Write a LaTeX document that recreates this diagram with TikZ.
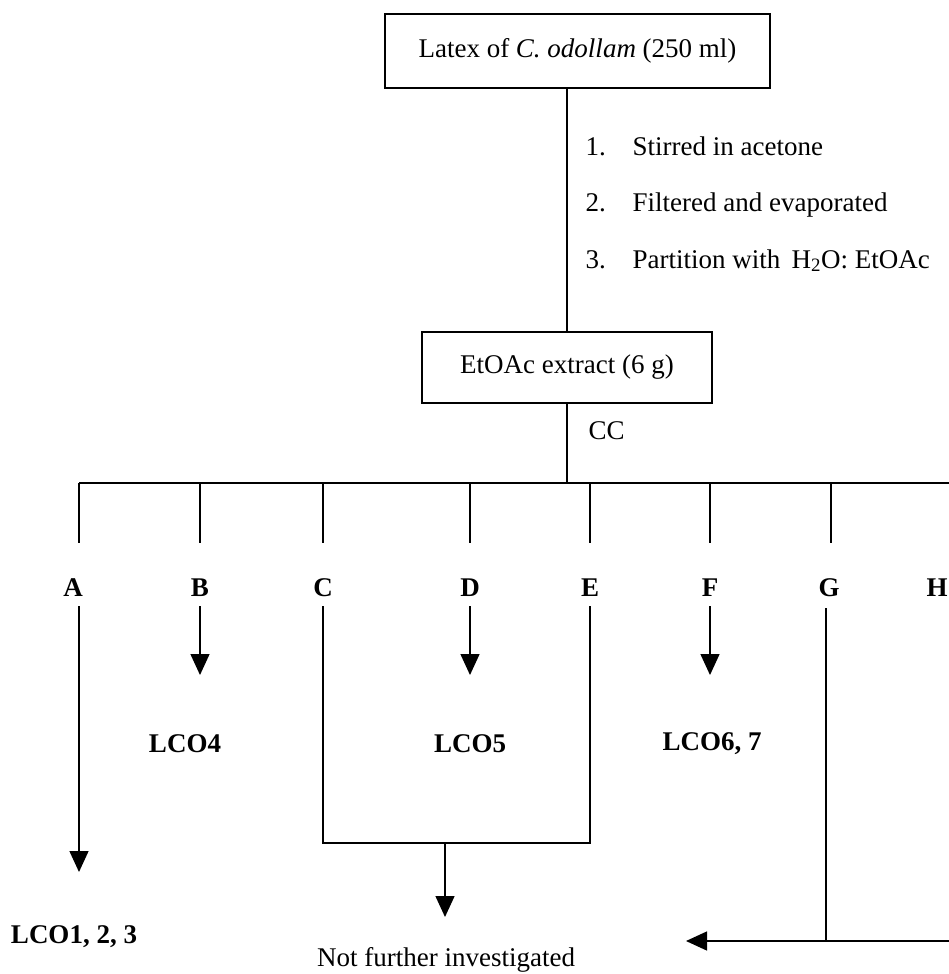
\documentclass[tikz,border=0pt]{standalone}
\usepackage{fontspec}
\setmainfont{Liberation Serif}
\usetikzlibrary{arrows.meta}
\begin{document}
\begin{tikzpicture}[x=1pt,y=-1pt,
  line width=1.4pt,
  box/.style={draw, line width=1.5pt, inner sep=0pt, font=\fontsize{27}{32}\selectfont},
  txt/.style={inner sep=0pt, font=\fontsize{27}{32}\selectfont},
  lab/.style={inner sep=0pt, font=\fontsize{27}{32}\selectfont\bfseries},
  arr/.style={-{Triangle[length=21pt,width=19pt]}}]
\useasboundingbox (0,0) rectangle (949,974);
% boxes
\node[box, minimum width=385pt, minimum height=74pt] (latex) at (577.5,51) {Latex of \textit{C. odollam} (250 ml)};
\node[box, minimum width=290pt, minimum height=71pt] (etoac) at (567,367.5) {EtOAc extract (6 g)};
% steps
\node[txt, anchor=base west] (n1) at (585,155) {1.};
\node[txt, anchor=base west] (s1) at (632,155) {Stirred in acetone};
\node[txt, anchor=base west] (n2) at (585,211) {2.};
\node[txt, anchor=base west] (s2) at (632,211) {Filtered and evaporated};
\node[txt, anchor=base west] (n3) at (585,268) {3.};
\node[txt, anchor=base west] (s3) at (632,268) {Partition with\, H\textsubscript{2}O: EtOAc};
\node[txt, anchor=west] (cc) at (588,431) {CC};
% main trunk
\coordinate (m) at (567,0);
\coordinate (bl) at (79,483);
\coordinate (br) at (949,483);
\draw (latex.south -| m) -- (etoac.north -| m);
\draw (etoac.south -| m) -- (m |- br);
\draw (bl) -- (br);
% drops and labels
\foreach \n/\x/\lx in {A/79/73, B/200/200, C/323/323, D/470/470, E/590/590, F/710/710, G/831/829}{
  \coordinate (t\n) at (\x,483);
  \coordinate (d\n) at (\x,543);
  \draw (t\n) -- (d\n);
  \node[lab] (\n) at (\lx,588) {\n};
}
\node[lab] (H) at (937,588) {H};
% lower connectors
\coordinate (a1) at (79,606);  \coordinate (a2) at (79,872);
\coordinate (b1) at (200,606); \coordinate (b2) at (200,675);
\coordinate (c1) at (323,606); \coordinate (c2) at (323,843);
\coordinate (d1) at (470,606); \coordinate (d2) at (470,675);
\coordinate (e1) at (590,606); \coordinate (e2) at (590,843);
\coordinate (f1) at (710,606); \coordinate (f2) at (710,675);
\coordinate (g1) at (826,608); \coordinate (g2) at (826,941);
\coordinate (mid) at (445,843); \coordinate (midtip) at (445,917);
\coordinate (rgt) at (949,941); \coordinate (ltip) at (686,941);
\draw[arr] (a1) -- (a2);
\draw[arr] (b1) -- (b2);
\draw[arr] (d1) -- (d2);
\draw[arr] (f1) -- (f2);
\draw (c1) -- (c2) -- (e2) -- (e1);
\draw[arr] (mid) -- (midtip);
\draw (g1) -- (g2);
\draw[arr] (rgt) -- (ltip);
% results
\node[lab] (l4) at (185,744) {LCO4};
\node[lab] (l5) at (470,744) {LCO5};
\node[lab] (l67) at (712,744) {LCO6, 7};
\node[lab] (l123) at (74,937) {LCO1, 2, 3};
\node[txt, anchor=base] (nfi) at (446,966) {Not further investigated};
\end{tikzpicture}
\end{document}
